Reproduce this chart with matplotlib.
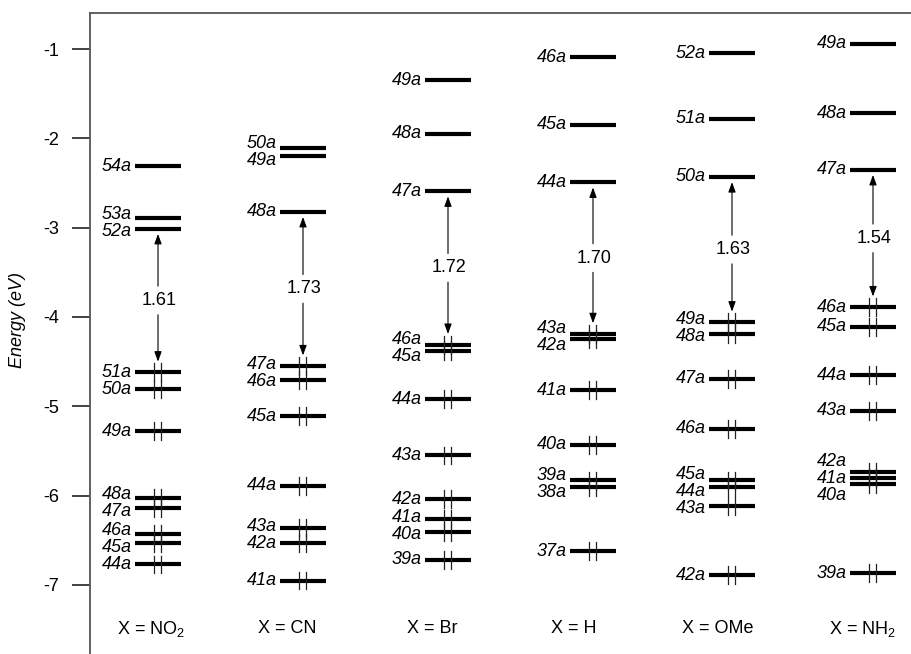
import matplotlib
matplotlib.use("Agg")
import matplotlib.pyplot as plt
from matplotlib.patches import FancyArrowPatch

plt.rcParams["font.family"] = ["Liberation Sans", "DejaVu Sans"]
plt.rcParams["mathtext.fontset"] = "custom"
plt.rcParams["mathtext.rm"] = "Liberation Sans"
plt.rcParams["mathtext.it"] = "Liberation Sans:italic"

# ---- data: orbital energies (eV) for each para-substituent X ----
substituents = ["NO$_2$", "CN", "Br", "H", "OMe", "NH$_2$"]

no2_orbitals = ["54a", "53a", "52a", "51a", "50a", "49a", "48a", "47a", "46a", "45a", "44a"]
no2_energies = [-2.31, -2.89, -3.01, -4.62, -4.81, -5.28, -6.03, -6.14, -6.43, -6.53, -6.77]

cn_orbitals = ["50a", "49a", "48a", "47a", "46a", "45a", "44a", "43a", "42a", "41a"]
cn_energies = [-2.11, -2.20, -2.82, -4.55, -4.71, -5.11, -5.89, -6.36, -6.53, -6.95]

br_orbitals = ["49a", "48a", "47a", "46a", "45a", "44a", "43a", "42a", "41a", "40a", "39a"]
br_energies = [-1.35, -1.95, -2.59, -4.31, -4.38, -4.92, -5.55, -6.04, -6.26, -6.41, -6.72]

h_orbitals = ["46a", "45a", "44a", "43a", "42a", "41a", "40a", "39a", "38a", "37a"]
h_energies = [-1.09, -1.85, -2.49, -4.19, -4.25, -4.82, -5.43, -5.83, -5.90, -6.62]

ome_orbitals = ["52a", "51a", "50a", "49a", "48a", "47a", "46a", "45a", "44a", "43a", "42a"]
ome_energies = [-1.05, -1.78, -2.43, -4.06, -4.19, -4.69, -5.25, -5.83, -5.90, -6.12, -6.89]

nh2_orbitals = ["49a", "48a", "47a", "46a", "45a", "44a", "43a", "42a", "41a", "40a", "39a"]
nh2_energies = [-0.94, -1.72, -2.35, -3.89, -4.11, -4.65, -5.05, -5.74, -5.80, -5.87, -6.87]

homo_numbers = [51, 47, 46, 43, 49, 46]
gap_values = [1.61, 1.73, 1.72, 1.70, 1.63, 1.54]

y_ticks = [-1, -2, -3, -4, -5, -6, -7]

orbitals = [no2_orbitals, cn_orbitals, br_orbitals, h_orbitals, ome_orbitals, nh2_orbitals]
energies = [no2_energies, cn_energies, br_energies, h_energies, ome_energies, nh2_energies]

# ---- layout (axes x runs in pixel-like units) ----
column_x = [68, 213, 358, 503, 642, 783]
caption_x = [61, 197, 342, 484, 628, 773]
half_len = 23
label_sep = 0.19


def spread_labels(values, sep):
    """Return label positions (same order, values sorted descending) kept sep apart."""
    groups = [[v] for v in values]
    while True:
        pos = []
        for g in groups:
            c = sum(g) / len(g)
            n = len(g)
            pos.append([c + sep * ((n - 1) / 2 - i) for i in range(n)])
        merged = False
        for i in range(len(groups) - 1):
            if pos[i][-1] - pos[i + 1][0] < sep - 1e-9:
                groups[i] = groups[i] + groups[i + 1]
                del groups[i + 1]
                merged = True
                break
        if not merged:
            return [p for grp in pos for p in grp]


fig = plt.figure(figsize=(9.12, 6.54), dpi=100)
ax = fig.add_axes([90 / 912, 0, 822 / 912, 641 / 654])
ax.set_xlim(0, 822)
ax.set_ylim(-1 - (654 - 49) / 89.33, -1 + (49 - 13) / 89.33)

for col, (names, ens) in enumerate(zip(orbitals, energies)):
    cx = column_x[col]
    homo = homo_numbers[col]
    label_y = spread_labels(ens, label_sep)
    lumo_e = homo_e = None
    for name, e, ly in zip(names, ens, label_y):
        num = int(name[:-1])
        ax.plot([cx - half_len, cx + half_len], [e, e], color="black", lw=3.0,
                solid_capstyle="butt", zorder=3)
        ax.text(cx - half_len - 3, ly, name, ha="right", va="center",
                style="italic", fontsize=13)
        if num <= homo:
            for dx in (-3.5, 3.5):
                ax.plot([cx + dx, cx + dx], [e - 0.1, e + 0.1], color="#222222",
                        lw=0.9, zorder=4)
        if num == homo:
            homo_e = e
        if num == homo + 1:
            lumo_e = e
    mid = (lumo_e + homo_e) / 2
    ax.text(cx + 1, mid, f"{gap_values[col]:.2f}", ha="center", va="center", fontsize=13)
    for start, end in (((cx, mid + 0.16), (cx, lumo_e - 0.06)),
                       ((cx, mid - 0.16), (cx, homo_e + 0.12))):
        ax.add_patch(FancyArrowPatch(start, end,
                                     arrowstyle="-|>,head_length=0.6,head_width=0.22",
                                     mutation_scale=10, lw=0.8, color="black",
                                     shrinkA=0, shrinkB=0, zorder=5))
    ax.text(caption_x[col], -7.49, "X = " + substituents[col], ha="center",
            va="center", fontsize=13)

ax.set_xticks([])
ax.set_yticks(y_ticks)
ax.set_yticklabels([str(t) for t in y_ticks])
ax.tick_params(axis="y", direction="out", length=13, width=1.3, color="#333333",
               pad=9, labelsize=13)
for side in ("right", "bottom"):
    ax.spines[side].set_visible(False)
for side in ("left", "top"):
    ax.spines[side].set_color("#555555")
    ax.spines[side].set_linewidth(1.3)

fig.text(18 / 912, 1 - 320 / 654, "Energy (eV)", rotation=90, style="italic",
         ha="center", va="center", fontsize=13)

fig.savefig("out.png", dpi=100)
